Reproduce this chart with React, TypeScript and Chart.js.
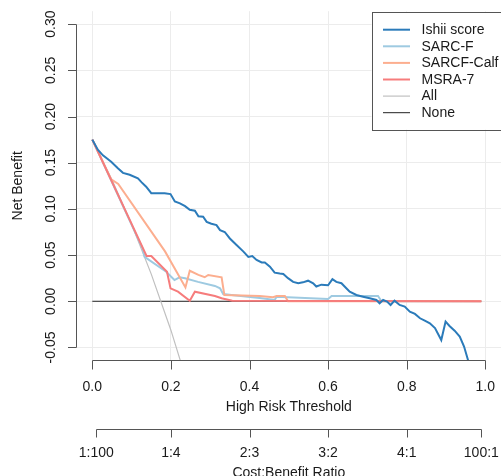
import React, { useEffect, useRef } from "react";
import { Chart, registerables } from "chart.js";

Chart.register(...registerables);

// Axis ticks
const riskTicks = [0, 0.2, 0.4, 0.6, 0.8, 1.0];
const benefitTicks = [-0.05, 0, 0.05, 0.1, 0.15, 0.2, 0.25, 0.3];
const ratioPositions = [0.01, 0.2, 0.4, 0.6, 0.8, 0.99];
const ratioLabels = ["1:100", "1:4", "2:3", "3:2", "4:1", "100:1"];

// Ishii score
const ishiiX = [
  0, 0.014, 0.027, 0.048, 0.065, 0.078, 0.095, 0.116, 0.125, 0.137, 0.15, 0.167, 0.184, 0.199,
  0.21, 0.223, 0.236, 0.248, 0.261, 0.27, 0.282, 0.291, 0.303, 0.316, 0.325, 0.337, 0.35, 0.367,
  0.384, 0.397, 0.407, 0.418, 0.431, 0.439, 0.452, 0.464, 0.477, 0.486, 0.498, 0.511, 0.524,
  0.536, 0.549, 0.562, 0.57, 0.583, 0.6, 0.611, 0.621, 0.634, 0.642, 0.655, 0.672, 0.689, 0.706,
  0.723, 0.731, 0.74, 0.75, 0.759, 0.769, 0.782, 0.795, 0.808, 0.821, 0.834, 0.846, 0.859, 0.872,
  0.888, 0.899, 0.909, 0.922, 0.935, 0.946, 0.956, 0.962,
];
const ishiiY = [
  0.175, 0.164, 0.158, 0.151, 0.144, 0.139, 0.137, 0.133, 0.129, 0.124, 0.117, 0.117, 0.117, 0.116,
  0.108, 0.106, 0.103, 0.099, 0.098, 0.092, 0.0915, 0.086, 0.084, 0.0825, 0.077, 0.075, 0.068,
  0.061, 0.054, 0.048, 0.049, 0.0447, 0.042, 0.042, 0.0375, 0.031, 0.03, 0.0295, 0.025, 0.021,
  0.0195, 0.0205, 0.0223, 0.0195, 0.016, 0.018, 0.0173, 0.024, 0.021, 0.0195, 0.016, 0.0104,
  0.0068, 0.005, 0.0032, 0.0014, -0.0022, 0.0014, -0.0004, -0.004, 0.0007, -0.004, -0.0058,
  -0.0112, -0.0137, -0.0184, -0.021, -0.0238, -0.029, -0.042, -0.022, -0.0267, -0.0318, -0.0383,
  -0.049, -0.0635, -0.075,
];

// SARC-F
const sarcfX = [0, 0.128, 0.133, 0.188, 0.209, 0.222, 0.236, 0.269, 0.312, 0.325, 0.333, 0.354, 0.426, 0.464, 0.469, 0.6, 0.609, 0.727, 0.736, 0.99];
const sarcfY = [0.175, 0.057, 0.048, 0.032, 0.023, 0.026, 0.025, 0.021, 0.0166, 0.014, 0.0079, 0.0068, 0.0035, 0.0014, 0.005, 0.0025, 0.0057, 0.0057, 0, 0];

// SARCF-Calf
const calfX = [0, 0.048, 0.066, 0.185, 0.237, 0.248, 0.27, 0.286, 0.295, 0.329, 0.336, 0.426, 0.46, 0.469, 0.49, 0.498, 0.99];
const calfY = [0.175, 0.132, 0.127, 0.054, 0.015, 0.033, 0.0285, 0.026, 0.0285, 0.026, 0.0068, 0.0057, 0.0043, 0.0057, 0.0057, 0, 0];

// MSRA-7
const msraX = [0, 0.138, 0.15, 0.19, 0.199, 0.218, 0.248, 0.261, 0.312, 0.329, 0.356, 0.99];
const msraY = [0.175, 0.049, 0.049, 0.032, 0.014, 0.0104, 0.0005, 0.0104, 0.0057, 0.0032, 0.0007, 0];

// Treat all
const allX = [0, 0.05, 0.1, 0.15, 0.2, 0.25];
const allY = [0.175, 0.1316, 0.0833, 0.0294, -0.0313, -0.1];

// Treat none
const noneX = [0, 0.99];
const noneY = [0, 0];

const FONT = '14px "Liberation Sans", Arial, sans-serif';
const TEXT = "#1a1a1a";
const AXIS = "#555555";
const GRID = "#ececec";

const toPoints = (xs: number[], ys: number[]) => xs.map((x, i) => ({ x, y: ys[i] }));

const rAxesPlugin = {
  id: "rAxes",
  afterDatasetsDraw(chart: any) {
    const { ctx, chartArea, scales } = chart;
    const xs = scales.x;
    const ys = scales.y;
    ctx.save();
    ctx.lineWidth = 1;
    ctx.strokeStyle = AXIS;
    ctx.fillStyle = TEXT;
    ctx.font = FONT;
    const seg = (x1: number, y1: number, x2: number, y2: number) => {
      ctx.beginPath();
      ctx.moveTo(x1, y1);
      ctx.lineTo(x2, y2);
      ctx.stroke();
    };
    const crisp = (v: number) => Math.round(v) + 0.5;

    // Threshold axis
    const by = crisp(chartArea.bottom);
    seg(crisp(xs.getPixelForValue(riskTicks[0])), by, crisp(xs.getPixelForValue(riskTicks[riskTicks.length - 1])), by);
    ctx.textAlign = "center";
    ctx.textBaseline = "middle";
    riskTicks.forEach((t) => {
      const px = crisp(xs.getPixelForValue(t));
      seg(px, by, px, by + 9);
      ctx.fillText(t.toFixed(1), xs.getPixelForValue(t), chartArea.bottom + 26.5);
    });
    const midX = xs.getPixelForValue(0.5);
    ctx.fillText("High Risk Threshold", midX, chartArea.bottom + 46.5);

    // Cost:benefit axis
    const cy = crisp(chartArea.bottom + 68.5);
    seg(crisp(xs.getPixelForValue(ratioPositions[0])), cy, crisp(xs.getPixelForValue(ratioPositions[ratioPositions.length - 1])), cy);
    ratioPositions.forEach((t, i) => {
      const px = crisp(xs.getPixelForValue(t));
      seg(px, cy, px, cy + 8);
      ctx.fillText(ratioLabels[i], xs.getPixelForValue(t), chartArea.bottom + 93);
    });
    ctx.fillText("Cost:Benefit Ratio", midX, chartArea.bottom + 112.5);

    // Net benefit axis
    const ax = crisp(chartArea.left - 0.8);
    seg(ax, crisp(ys.getPixelForValue(benefitTicks[0])), ax, crisp(ys.getPixelForValue(benefitTicks[benefitTicks.length - 1])));
    benefitTicks.forEach((v) => {
      const py = crisp(ys.getPixelForValue(v));
      seg(ax, py, ax - 8.5, py);
      ctx.save();
      ctx.translate(chartArea.left - 25, ys.getPixelForValue(v));
      ctx.rotate(-Math.PI / 2);
      ctx.fillText(v.toFixed(2), 0, 0);
      ctx.restore();
    });
    ctx.save();
    ctx.translate(chartArea.left - 58.3, (chartArea.top + chartArea.bottom) / 2);
    ctx.rotate(-Math.PI / 2);
    ctx.fillText("Net Benefit", 0, 0);
    ctx.restore();

    // Legend box in the top-right corner
    const boxLeft = chartArea.right - 129.5;
    const boxTop = chartArea.top + 0.5;
    const boxH = 118;
    ctx.fillStyle = "#ffffff";
    ctx.fillRect(boxLeft, boxTop, chartArea.right + 5 - boxLeft, boxH);
    ctx.strokeStyle = "#555555";
    ctx.strokeRect(crisp(boxLeft), crisp(boxTop), chartArea.right + 5 - boxLeft, boxH);
    ctx.textAlign = "left";
    chart.data.datasets.forEach((ds: any, i: number) => {
      const ry = boxTop + 18 + i * 16.6;
      ctx.strokeStyle = ds.borderColor;
      ctx.lineWidth = ds.borderWidth;
      seg(boxLeft + 11.5, ry, boxLeft + 38.5, ry);
      ctx.fillStyle = TEXT;
      ctx.fillText(ds.label, boxLeft + 50, ry + 0.5);
    });
    ctx.restore();
  },
};

export default function App() {
  const canvasRef = useRef<HTMLCanvasElement | null>(null);

  useEffect(() => {
    if (!canvasRef.current) return;
    const line = (label: string, xs: number[], ys: number[], color: string, width: number, order: number) => ({
      label,
      data: toPoints(xs, ys),
      borderColor: color,
      backgroundColor: color,
      borderWidth: width,
      pointRadius: 0,
      tension: 0,
      fill: false,
      clip: 0,
      order,
    });
    const chart = new Chart(canvasRef.current, {
      type: "line",
      data: {
        datasets: [
          line("Ishii score", ishiiX, ishiiY, "#2b7bba", 2, 0),
          line("SARC-F", sarcfX, sarcfY, "#9ecae1", 2, 3),
          line("SARCF-Calf", calfX, calfY, "#fcae8f", 2, 2),
          line("MSRA-7", msraX, msraY, "#f67c7c", 2, 1),
          line("All", allX, allY, "#c0c0c0", 1.2, 4),
          line("None", noneX, noneY, "#222222", 1, 5),
        ],
      },
      options: {
        animation: false,
        responsive: false,
        devicePixelRatio: 1,
        layout: {
          autoPadding: false,
          padding: { left: 76.6, top: 11.2, right: 0, bottom: 115.6 },
        },
        plugins: { legend: { display: false }, tooltip: { enabled: false } },
        scales: {
          x: {
            type: "linear",
            min: -0.04,
            max: 1.04,
            afterBuildTicks: (s: any) => {
              s.ticks = riskTicks.map((value) => ({ value }));
            },
            ticks: { display: false },
            grid: { color: GRID, drawTicks: false },
            border: { display: false },
          },
          y: {
            type: "linear",
            min: -0.064,
            max: 0.314,
            afterBuildTicks: (s: any) => {
              s.ticks = benefitTicks.map((value) => ({ value }));
            },
            ticks: { display: false },
            grid: { color: GRID, drawTicks: false },
            border: { display: false },
          },
        },
      } as any,
      plugins: [rAxesPlugin],
    });
    return () => chart.destroy();
  }, []);

  return (
    <div style={{ position: "fixed", left: 0, top: 0, width: 501, height: 476, background: "#fff" }}>
      <canvas ref={canvasRef} width={501} height={476} style={{ display: "block" }} />
    </div>
  );
}
